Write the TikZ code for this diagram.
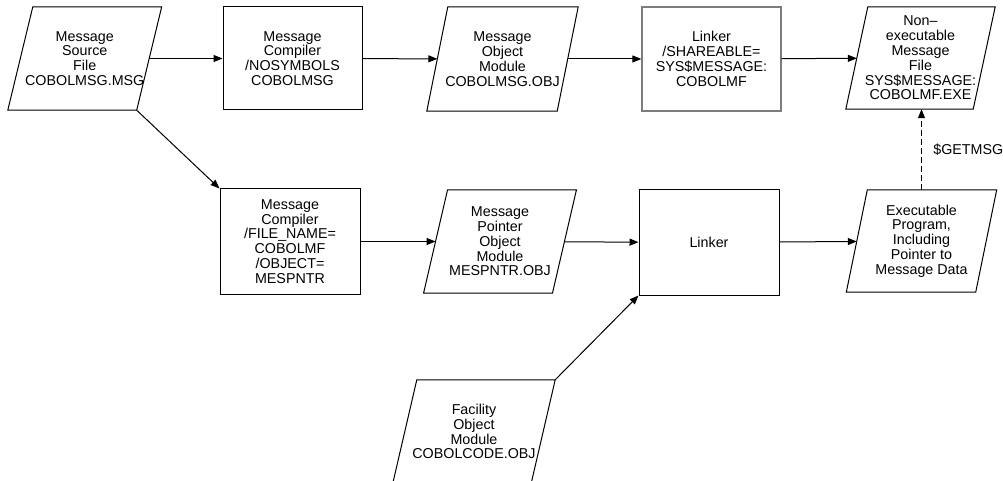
\documentclass[tikz,border=0pt]{standalone}
\usepackage{fontspec}
\setmainfont{Liberation Sans}
\usetikzlibrary{arrows.meta}
\begin{document}
\begin{tikzpicture}[x=1pt,y=-1pt,
  font=\fontsize{14.3}{14.8}\selectfont,
  box/.style={draw=black, line width=1pt, align=center, inner sep=0pt},
  grbox/.style={box, draw={rgb,255:red,125;green,125;blue,125}, line width=1.3pt},
  para/.style={draw=none, align=center, inner sep=0pt},
  outline/.style={draw=black, line width=1pt},
  arr/.style={line width=1pt, -{Triangle[length=9pt,width=7pt]}},
  dasharr/.style={arr, dash pattern=on 6pt off 3pt}]
\useasboundingbox (0,0) rectangle (1003,481);

% top row
\node[para, minimum width=128.5pt, minimum height=103pt] (src) at (84.75,58.5)
  {Message\\Source\\File\\COBOLMSG.MSG};
\node[box, minimum width=139pt, minimum height=103pt] (comp1) at (292.5,58.5)
  {Message\\Compiler\\/NOSYMBOLS\\COBOLMSG};
\node[para, minimum width=130pt, minimum height=104pt] (obj) at (502.5,59)
  {Message\\Object\\Module\\COBOLMSG.OBJ};
\node[grbox, minimum width=139pt, minimum height=104pt] (link1) at (711.5,59)
  {Linker\\/SHAREABLE=\\SYS\$MESSAGE:\\COBOLMF};
\node[para, minimum width=127pt, minimum height=102pt] (nonexe) at (920.5,58)
  {Non--\\executable\\Message\\File\\SYS\$MESSAGE:\\COBOLMF.EXE};

% middle row
\node[box, minimum width=140pt, minimum height=105pt] (comp2) at (290,241.5)
  {Message\\Compiler\\/FILE\_NAME=\\COBOLMF\\/OBJECT=\\MESPNTR};
\node[para, minimum width=128.5pt, minimum height=103pt] (ptr) at (500,241.5)
  {Message\\Pointer\\Object\\Module\\MESPNTR.OBJ};
\node[box, minimum width=140pt, minimum height=105pt] (link2) at (709,242.5)
  {Linker};
\node[para, minimum width=129pt, minimum height=102pt] (exe) at (921.5,241)
  {Executable\\Program,\\Including\\Pointer to\\Message Data};

% bottom
\node[para, minimum width=138pt, minimum height=103pt] (fac) at (474,431.5)
  {Facility\\Object\\Module\\COBOLCODE.OBJ};

% parallelogram outlines
\foreach \n/\s in {src/12.5pt, obj/10.5pt, nonexe/11pt, ptr/12pt, exe/10.5pt, fac/12pt}
  \draw[outline] ([xshift=\s]\n.north west) -- ([xshift=\s]\n.north east)
     -- ([xshift=-\s]\n.south east) -- ([xshift=-\s]\n.south west) -- cycle;

% connectors
\draw[arr] (src) -- (comp1);
\draw[arr] (comp1) -- (obj);
\draw[arr] (obj) -- (link1);
\draw[arr] (link1) -- (nonexe);
\draw[arr] ([xshift=-12.5pt]src.south east) -- (comp2.north west);
\draw[arr] (comp2) -- (ptr);
\draw[arr] (ptr) -- (link2);
\draw[arr] (link2) -- (exe);
\draw[arr] ([xshift=12pt]fac.north east) -- (link2.south west);
\draw[dasharr] (exe.north) -- (exe.north |- nonexe.south)
  node[midway, right=8pt] {\$GETMSG};
\end{tikzpicture}
\end{document}
